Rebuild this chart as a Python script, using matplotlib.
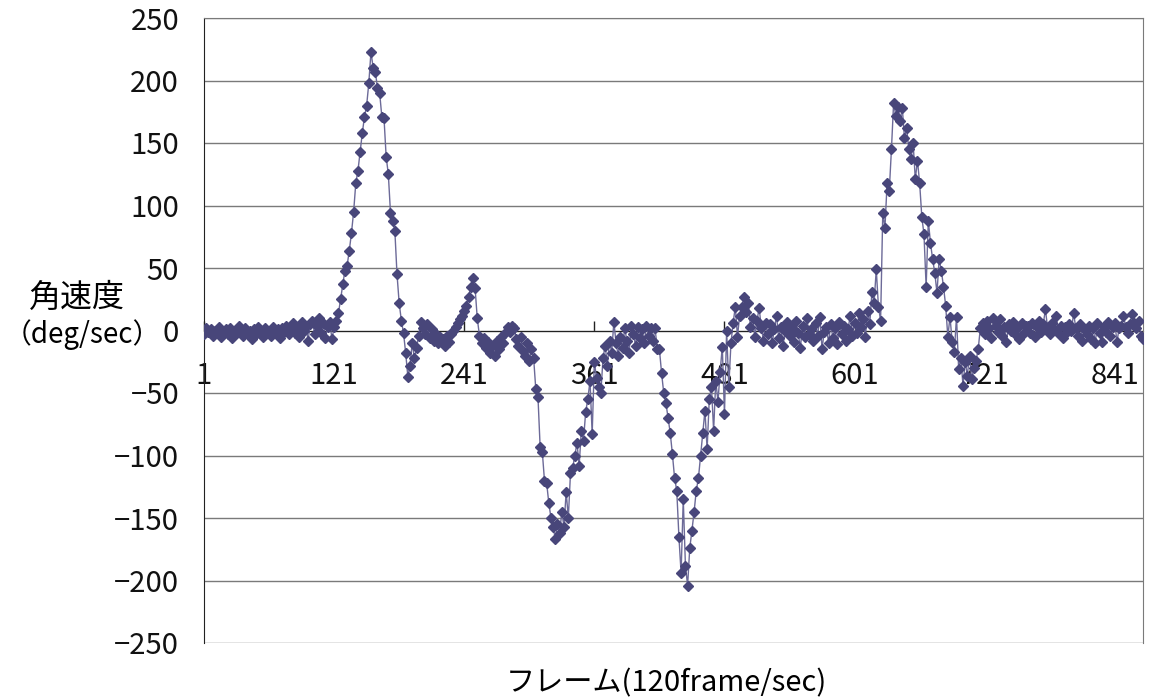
import numpy as np
import matplotlib
matplotlib.use("Agg")
import matplotlib.pyplot as plt

plt.rcParams['font.family'] = ['Noto Sans CJK JP', 'DejaVu Sans']

# angular velocity, every 2nd frame (1, 3, 5, ... 867)
omega = [
    -3, 2, -1, 1, -4, 0, -2, 3, -5, -1,            # 1-19
    1, -3, 2, -6, 0, -2, 4, -1, -4, 2,             # 21-39
    -2, 0, -7, 1, -3, 3, -1, -5, 2, -2,            # 41-59
    0, -4, 3, -2, 1, -6, 2, -1, 4, -3,             # 61-79
    1, 6, -2, 3, -5, 7, 0, 4, -8, 5,               # 81-99
    8, -3, 4, 10, -2, 6, -6, 3, 7, -7,             # 101-119
    3, 8, 14, 25, 37, 48, 52, 64, 78, 95,          # 121-139
    118, 128, 143, 158, 171, 180, 198, 223, 210, 207,   # 141-159
    194, 190, 171, 170, 139, 125, 94, 88, 80, 45,  # 161-179
    22, 8, -2, -18, -37, -28, -10, -22, -14, -4,   # 181-199
    7, 2, -3, 5, -6, 1, -8, -3, -10, -5,           # 201-219
    -7, -12, -4, -9, -3, 0, 3, 6, 9, 12,           # 221-239
    16, 20, 27, 35, 42, 34, 10, -4, -10, -6,       # 241-259
    -14, -9, -18, -12, -20, -8, -15, -5, -10, -2,  # 261-279
    3, -1, 4, 2, -7, -12, -5, -16, -20, -10,       # 281-299
    -24, -15, -22, -47, -53, -93, -97, -120, -122, -138,      # 301-319
    -150, -157, -167, -155, -162, -145, -157, -129, -150, -114,  # 321-339
    -110, -100, -90, -108, -80, -88, -65, -55, -40, -83,      # 341-359
    -25, -38, -45, -50, -22, -12, -28, -8, -18, 7,  # 361-379
    -10, -20, -5, -14, 2, -8, -18, 4, -3, -12,      # 381-399
    3, -6, 1, -10, 4, -4, 2, -8, 2, -15,            # 401-419
    -15, -34, -50, -58, -70, -82, -99, -118, -128, -165,      # 421-439
    -194, -135, -188, -204, -174, -160, -145, -128, -118, -100,  # 441-459
    -82, -64, -95, -55, -45, -80, -40, -57, -33, -13,  # 461-479
    -67, 0, -45, -10, 6, 19, -5, 12, 19, 27,        # 481-499
    15, 22, 3, 10, -5, 8, 18, 2, -8, 6,             # 501-519
    -3, 5, -10, 1, 12, -6, 3, -12, 0, 7,            # 521-539
    -4, 2, -9, 8, -2, -14, 4, -5, 10, -3,           # 541-559
    1, -8, 6, -4, 11, -15, -1, 3, -10, 5,           # 561-579
    -6, 2, -11, 7, -3, 4, -8, 1, 12, -4,            # 581-599
    6, -2, 14, 3, 9, -5, 16, 5, 31, 22,             # 601-619
    49, 19, 8, 94, 82, 118, 112, 145, 182, 172,     # 621-639
    179, 168, 178, 154, 162, 145, 137, 150, 121, 136,  # 641-659
    118, 91, 77, 35, 88, 70, 57, 46, 30, 57,        # 661-679
    48, 35, 20, -5, 11, -9, -17, 11, -31, -22,      # 681-699
    -44, -25, -36, -20, -39, -30, -24, -15, 2, 6,   # 701-719
    -3, 8, 2, -6, 10, 4, -1, 9, -4, 3,              # 721-739
    -9, 5, 0, 7, -3, 2, -7, 6, -2, 4,               # 741-759
    4, -2, 6, -5, 3, 8, -1, 5, 17, 2,               # 761-779
    -3, 6, 1, 12, -2, 4, -6, 3, -1, 5,              # 781-799
    0, 14, 2, -4, 5, -8, 1, -3, 4, -7,              # 801-819
    2, -10, 6, -2, -9, 3, -1, 7, -4, 3,             # 821-839
    6, -9, 2, 4, 12, 3, -2, 5, 13, 6,               # 841-859
    2, 8, -4, -7,                                   # 861-867
]
frames = np.arange(1, 2 * len(omega), 2)

xticks = [1, 121, 241, 361, 481, 601, 721, 841]
yticks = list(range(-250, 251, 50))

fig = plt.figure(figsize=(11.51, 7.0), dpi=100)
ax = fig.add_axes([204 / 1151, 57 / 700, 939 / 1151, 625 / 700])

ax.plot(frames, omega, color='#6c6a98', lw=1.0, marker='D', ms=5.0,
        mfc='#48467a', mec='#48467a', zorder=3)

ax.set_xlim(1, 867)
ax.set_ylim(-250, 250)
ax.set_yticks(yticks)
ax.set_xticks(xticks)
ax.set_xticklabels([str(t) for t in xticks])

# horizontal grid
ax.yaxis.grid(True, color='#7a7a7a', lw=1.0, zorder=0)
ax.set_axisbelow(True)

# category axis crosses at zero
ax.spines['bottom'].set_position(('data', 0))
ax.spines['bottom'].set_color('#222222')
ax.spines['bottom'].set_zorder(2)
ax.spines['left'].set_color('#222222')
ax.spines['top'].set_color('#7a7a7a')
ax.spines['right'].set_color('#7a7a7a')

ax.tick_params(axis='x', direction='in', length=7, width=1, pad=22,
               labelsize=21, colors='#222222', labelcolor='#111111')
ax.tick_params(axis='y', length=0, pad=18, labelsize=21, labelcolor='#111111')

fig.text(77 / 1151, 1 - 298 / 700, '角速度', fontsize=23, ha='center', va='center')
fig.text(82 / 1151, 1 - 335 / 700, '（deg/sec）', fontsize=20, ha='center', va='center')
fig.text(666 / 1151, 1 - 683 / 700, 'フレーム(120frame/sec)', fontsize=21,
         ha='center', va='center')

fig.savefig('out.png', dpi=100)
